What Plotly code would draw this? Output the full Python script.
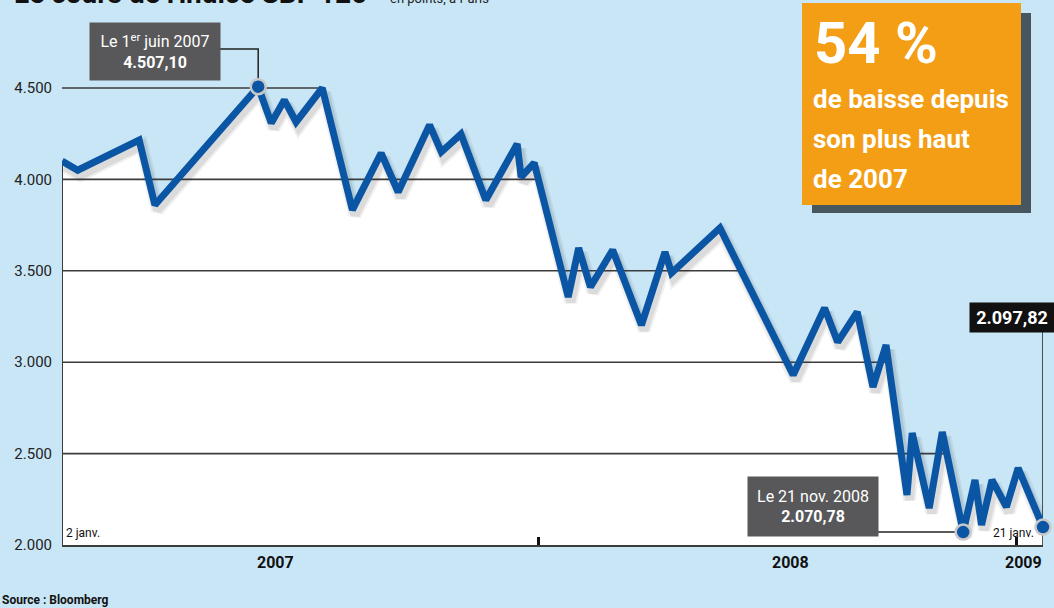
import plotly.graph_objects as go
import pandas as pd

# ---------------- data ----------------
date_strs = [
    "2007-01-02", "2007-01-14", "2007-03-02", "2007-03-14", "2007-06-01",
    "2007-06-11", "2007-06-21", "2007-06-30", "2007-07-20", "2007-08-12",
    "2007-09-03", "2007-09-16", "2007-10-10", "2007-10-19", "2007-11-03",
    "2007-11-22", "2007-12-16", "2007-12-19", "2007-12-29", "2008-01-24",
    "2008-02-01", "2008-02-10", "2008-02-27", "2008-03-20", "2008-04-07",
    "2008-04-12", "2008-05-19", "2008-07-14", "2008-08-07", "2008-08-17",
    "2008-09-01", "2008-09-13", "2008-09-23", "2008-10-09", "2008-10-13",
    "2008-10-26", "2008-11-05", "2008-11-21", "2008-11-30", "2008-12-05",
    "2008-12-13", "2008-12-24", "2009-01-02", "2009-01-21",
]
values = [
    4100, 4050, 4215, 3860, 4507.10,
    4308, 4434, 4314, 4500, 3833,
    4144, 3931, 4298, 4150, 4248,
    3887, 4194, 4013, 4090, 3357,
    3625, 3411, 3614, 3203, 3603,
    3488, 3734, 2930, 3296, 3110,
    3275, 2864, 3094, 2274, 2613,
    2202, 2618, 2070.78, 2356, 2110,
    2356, 2208, 2421, 2097.82,
]
y_ticks = [2000, 2500, 3000, 3500, 4000, 4500]
y_ticktext = ["2.000", "2.500", "3.000", "3.500", "4.000", "4.500"]
grid_levels = [2500, 3000, 3500, 4000, 4500]
year_labels = ["2007", "2008", "2009"]
year_label_dates = ["2007-06-14", "2008-07-12", "2009-01-06"]
year_ticks = ["2008-01-01", "2009-01-01"]

peak_date, peak_val = "2007-06-01", 4507.10
low_date, low_val = "2008-11-21", 2070.78
end_date, end_val = "2009-01-21", 2097.82

box_lines = ["de baisse depuis", "son plus haut", "de 2007"]

# ---------------- helpers ----------------
dates = pd.to_datetime(date_strs)
x_start, x_end = dates[0], dates[-1]
Y0, Y1 = 2000, 2000 + 545 / 0.1828

W, H = 1054, 608
ML, MR, MT, MB = 62, 11, 0, 63
PW, PH = W - ML - MR, H - MT - MB


def px(p):
    return (p - ML) / PW


def py(p):
    return (545 - p) / PH


def last_cross(level):
    for i in range(len(values) - 2, -1, -1):
        if values[i] >= level > values[i + 1]:
            t = (values[i] - level) / (values[i] - values[i + 1])
            return dates[i] + t * (dates[i + 1] - dates[i])
    return x_end


BG = "#c9e6f6"
BLUE = "#0a56a4"
GRID = "#3c3c3c"
FONT = "Roboto, Liberation Sans, sans-serif"

fig = go.Figure()

# white area under the curve
fig.add_trace(go.Scatter(x=dates, y=values, mode="lines", fill="tozeroy",
                         fillcolor="white", line=dict(width=0, color="white"),
                         hoverinfo="skip", showlegend=False))

# grid lines (end where the curve last crosses them)
for lv in grid_levels:
    fig.add_trace(go.Scatter(x=[x_start, last_cross(lv)], y=[lv, lv], mode="lines",
                             line=dict(color=GRID, width=1.6), hoverinfo="skip",
                             showlegend=False))

# left edge line
fig.add_trace(go.Scatter(x=[x_start, x_start], y=[Y0, values[0]], mode="lines",
                         line=dict(color=GRID, width=2), hoverinfo="skip",
                         showlegend=False))
# right connector line to last-value label
fig.add_trace(go.Scatter(x=[x_end, x_end], y=[Y0, Y0 + py(332) * (Y1 - Y0)], mode="lines",
                         line=dict(color="#222222", width=1.5), hoverinfo="skip",
                         showlegend=False, cliponaxis=False))
# connector lines for annotation boxes
conn_peak_y = Y0 + py(49) * (Y1 - Y0)
box1_right = x_start + px(220) * (x_end - x_start)
fig.add_trace(go.Scatter(x=[box1_right, pd.Timestamp(peak_date), pd.Timestamp(peak_date)],
                         y=[conn_peak_y, conn_peak_y, peak_val], mode="lines",
                         line=dict(color="#222222", width=1.5), hoverinfo="skip",
                         showlegend=False, cliponaxis=False))
box2_right = x_start + px(878) * (x_end - x_start)
fig.add_trace(go.Scatter(x=[box2_right, pd.Timestamp(low_date)], y=[low_val, low_val],
                         mode="lines", line=dict(color="#222222", width=1.5),
                         hoverinfo="skip", showlegend=False))

# soft shadow under the line
shadow_off = 28
for w, a in [(13, 0.07), (9, 0.10)]:
    fig.add_trace(go.Scatter(x=dates + pd.Timedelta(days=2), y=[v - shadow_off for v in values],
                             mode="lines", line=dict(color=f"rgba(40,40,40,{a})", width=w),
                             hoverinfo="skip", showlegend=False))

# main line
fig.add_trace(go.Scatter(x=dates, y=values, mode="lines",
                         line=dict(color=BLUE, width=7), hoverinfo="skip",
                         showlegend=False))

# highlighted points
fig.add_trace(go.Scatter(x=[peak_date, low_date, end_date], y=[peak_val, low_val, end_val],
                         mode="markers", cliponaxis=False,
                         marker=dict(size=15, color=BLUE, line=dict(color="#c8c8c8", width=2.5)),
                         hoverinfo="skip", showlegend=False))

shapes = [
    # orange box shadow
    dict(type="rect", xref="paper", yref="paper", x0=px(812), x1=px(1031), y0=py(213), y1=py(13),
         fillcolor="#48575f", line=dict(width=0), layer="above"),
    dict(type="rect", xref="paper", yref="paper", x0=px(802), x1=px(1021), y0=py(205), y1=py(3),
         fillcolor="#f39e14", line=dict(width=0), layer="above"),
]

annotations = [
    # title (cut off at the top)
    dict(text="<b>Le cours de l'indice SBF 120</b>", xref="paper", yref="paper",
         x=px(12), y=py(12), xanchor="left", yanchor="bottom", showarrow=False,
         font=dict(family=FONT, size=28, color="#111111")),
    dict(text="en points, à Paris", xref="paper", yref="paper",
         x=px(388), y=py(8), xanchor="left", yanchor="bottom", showarrow=False,
         font=dict(family=FONT, size=13, color="#222222")),
    # peak box
    dict(text="Le 1<sup>er</sup> juin 2007<br><b>4.507,10</b>", xref="paper", yref="paper",
         x=px(155), y=py(51.5), xanchor="center", yanchor="middle", showarrow=False,
         width=126, height=53, bgcolor="#58585a", borderpad=2,
         font=dict(family=FONT, size=16, color="white")),
    # low box
    dict(text="Le 21 nov. 2008<br><b>2.070,78</b>", xref="paper", yref="paper",
         x=px(813), y=py(506.5), xanchor="center", yanchor="middle", showarrow=False,
         width=126, height=55, bgcolor="#58585a", borderpad=2,
         font=dict(family=FONT, size=16, color="white")),
    # last value box
    dict(text="<b>2.097,82</b>", xref="paper", yref="paper",
         x=px(1012), y=py(317.5), xanchor="center", yanchor="middle", showarrow=False,
         width=80, height=25, bgcolor="#111111", borderpad=2,
         font=dict(family=FONT, size=18, color="white")),
    # orange box text
    dict(text="<b>54 %</b>", xref="paper", yref="paper",
         x=px(812), y=py(43), xanchor="left", yanchor="middle", showarrow=False,
         font=dict(family=FONT, size=58, color="white")),
    # small date labels
    dict(text="2 janv.", xref="paper", yref="paper", x=px(64), y=py(533),
         xanchor="left", yanchor="middle", showarrow=False,
         font=dict(family=FONT, size=12, color="#111111")),
    dict(text="21 janv.", xref="paper", yref="paper", x=px(1036), y=py(533),
         xanchor="right", yanchor="middle", showarrow=False,
         font=dict(family=FONT, size=12, color="#111111")),
    # source
    dict(text="<b>Source : Bloomberg</b>", xref="paper", yref="paper", x=px(0), y=py(600),
         xanchor="left", yanchor="middle", showarrow=False,
         font=dict(family=FONT, size=12, color="#111111")),
]
for i, line in enumerate(box_lines):
    annotations.append(dict(text=f"<b>{line}</b>", xref="paper", yref="paper",
                            x=px(811), y=py(99 + 40 * i), xanchor="left", yanchor="middle",
                            showarrow=False,
                            font=dict(family=FONT, size=26, color="white")))
for lab, d in zip(year_labels, year_label_dates):
    annotations.append(dict(text=f"<b>{lab}</b>", xref="x", yref="paper", x=d, y=py(562),
                            xanchor="center", yanchor="middle", showarrow=False,
                            font=dict(family=FONT, size=16, color="#111111")))

fig.update_layout(
    width=W, height=H,
    margin=dict(l=ML, r=MR, t=MT, b=MB, autoexpand=False),
    paper_bgcolor=BG, plot_bgcolor=BG,
    showlegend=False,
    shapes=shapes,
    annotations=annotations,
    xaxis=dict(type="date", range=[x_start, x_end], showgrid=False, zeroline=False,
               showline=True, linecolor=GRID, linewidth=2,
               tickvals=year_ticks, ticks="inside", ticklen=8, tickwidth=2.5,
               tickcolor="#111111", showticklabels=False, fixedrange=True),
    yaxis=dict(range=[Y0, Y1], showgrid=False, zeroline=False, showline=False,
               tickvals=y_ticks, ticktext=y_ticktext, ticks="", ticklabelstandoff=9,
               tickfont=dict(family=FONT, size=15, color="#222222"), fixedrange=True),
)

fig.write_html(
    "out.html",
    config={"displayModeBar": False},
    post_script="document.body.style.margin='0';document.body.style.padding='0';"
                "document.body.style.overflow='hidden';",
)
